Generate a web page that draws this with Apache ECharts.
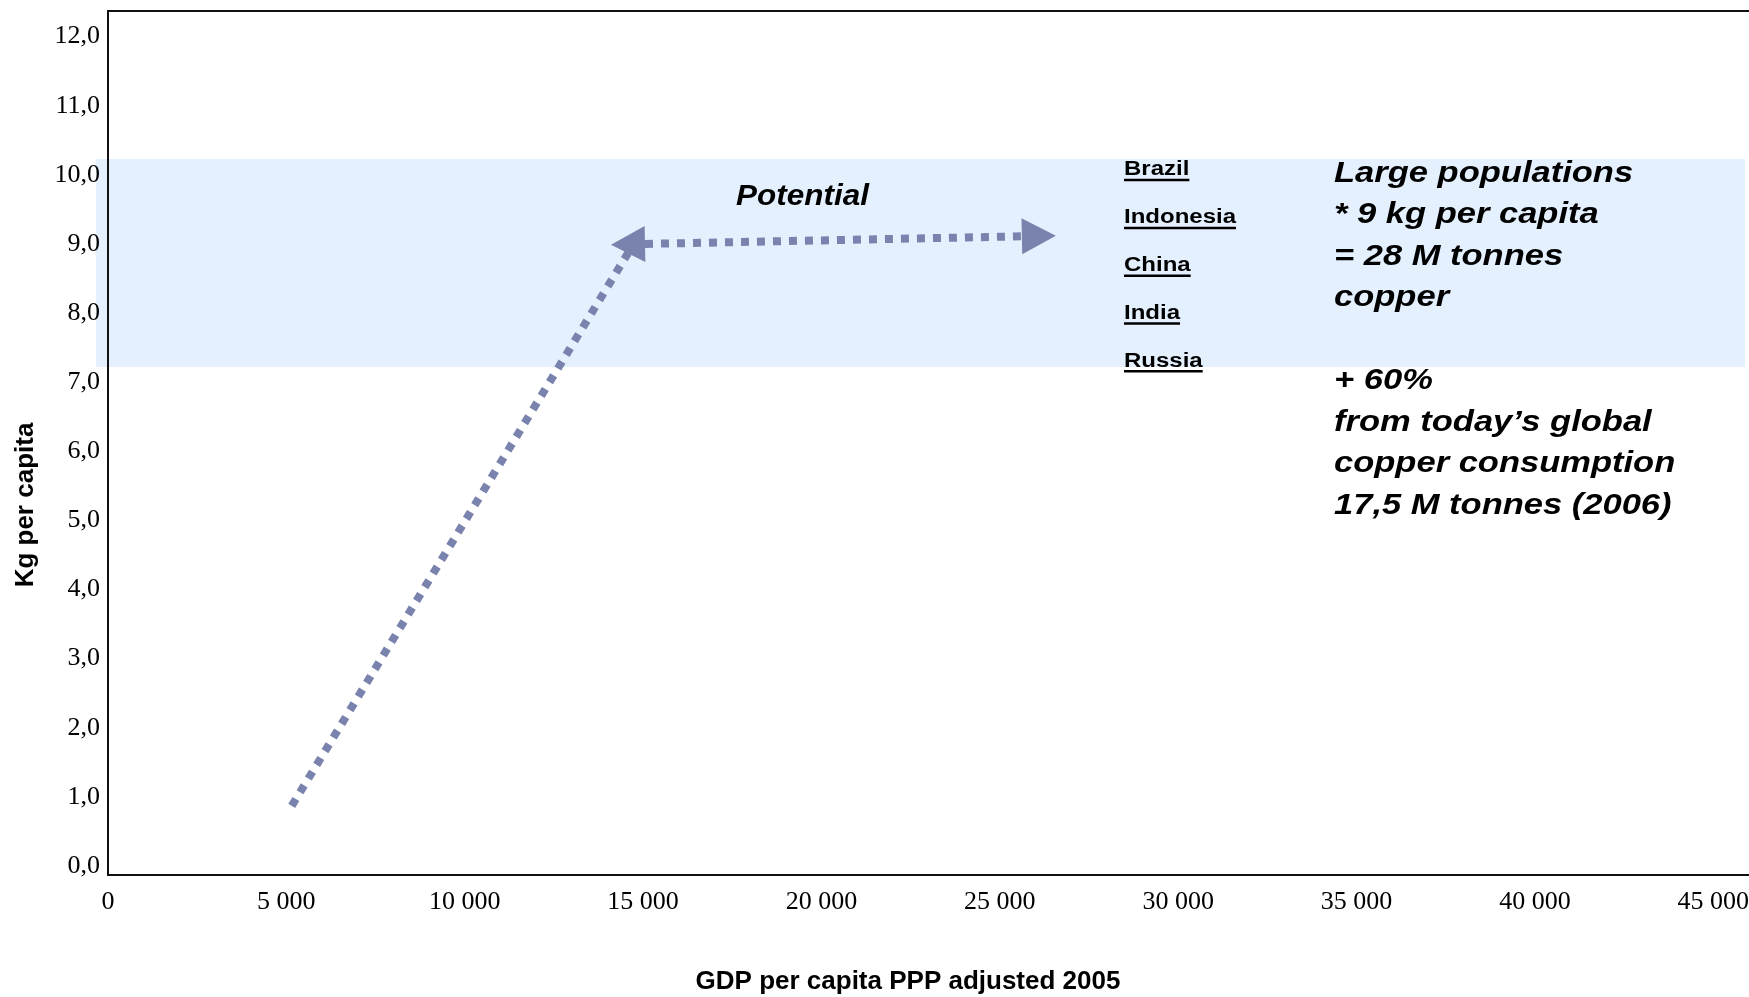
<!DOCTYPE html>
<html>
<head>
<meta charset="utf-8">
<script src="https://cdn.jsdelivr.net/npm/echarts@6/dist/echarts.min.js"></script>
<style>
  html, body { margin: 0; padding: 0; background: #ffffff; }
  #chart { width: 1749px; height: 997px; }
</style>
</head>
<body>
<div id="chart"></div>
<script>
// Axis ranges: GDP per capita (x) and copper use in kg per capita (y)
const gdpMax = 46000;
const gdpStep = 5000;
const kgMax = 12.5;
const kgStep = 1;

// Highlighted consumption range, kg per capita [low, high]
const potentialBand = [7.35, 10.36];

// Dotted arrows, endpoints as [gdp, kg]
const growthFrom = [5150, 1.0];
const growthTo = [14580, 9.0];
const potentialFrom = [14100, 9.12];
const potentialTo = [26570, 9.25];

const countries = ['Brazil', 'Indonesia', 'China', 'India', 'Russia'];
const noteLines = [
  'Large populations', '* 9 kg per capita', '= 28 M tonnes', 'copper', '',
  '+ 60%', 'from today\u2019s global', 'copper consumption', '17,5 M tonnes (2006)'
];
const xTitle = 'GDP per capita PPP adjusted 2005';
const yTitle = 'Kg per capita';

const arrowColor = '#7a83ad';
const bandColor = '#e4f0fe';
const axisColor = '#111111';
const serif = '"Liberation Serif", "Times New Roman", serif';
const sans = '"Liberation Sans", Arial, Helvetica, sans-serif';

const fmtGdp = v => String(v).replace(/\B(?=(\d{3})+(?!\d))/g, ' ');
const fmtKg = v => v.toFixed(1).replace('.', ',');

// [x0, y0, x1, y1, head at start, head at end]
const arrowRows = [
  [...growthFrom, ...growthTo, 0, 0],
  [...potentialFrom, ...potentialTo, 1, 1]
];

function renderBand(params, api) {
  const top = api.coord([0, api.value(1)])[1];
  const bottom = api.coord([0, api.value(0)])[1];
  const cs = params.coordSys;
  return {
    type: 'rect',
    shape: { x: cs.x - 12, y: top, width: cs.width + 8, height: bottom - top },
    style: { fill: bandColor }
  };
}

function renderArrow(params, api) {
  const a = api.coord([api.value(0), api.value(1)]);
  const b = api.coord([api.value(2), api.value(3)]);
  const headStart = api.value(4), headEnd = api.value(5);
  const dx = b[0] - a[0], dy = b[1] - a[1];
  const len = Math.hypot(dx, dy);
  const ux = dx / len, uy = dy / len;
  const nx = -uy, ny = ux;
  const HL = 34, HW = 36;
  const s = headStart ? [a[0] + ux * HL, a[1] + uy * HL] : a;
  const e = headEnd ? [b[0] - ux * HL, b[1] - uy * HL] : b;
  const children = [{
    type: 'line',
    shape: { x1: s[0], y1: s[1], x2: e[0], y2: e[1] },
    style: { stroke: arrowColor, lineWidth: 8, lineDash: [8, 8], lineCap: 'butt', fill: null }
  }];
  const head = (tip, px, py) => {
    const bx = tip[0] - px * HL, by = tip[1] - py * HL;
    return {
      type: 'polygon',
      shape: { points: [tip, [bx + nx * HW / 2, by + ny * HW / 2], [bx - nx * HW / 2, by - ny * HW / 2]] },
      style: { fill: arrowColor }
    };
  };
  if (headStart) children.push(head(a, -ux, -uy));
  if (headEnd) children.push(head(b, ux, uy));
  return { type: 'group', children };
}

// Text measurement for the underlined country names
const measureCtx = document.createElement('canvas').getContext('2d');
function textWidth(text, font) {
  measureCtx.font = font;
  return measureCtx.measureText(text).width;
}

const graphics = [];
graphics.push({
  type: 'text', x: 736, y: 197, scaleX: 1.05, z: 10,
  style: { text: 'Potential', font: 'italic bold 30px ' + sans, fill: '#000', verticalAlign: 'middle', align: 'left' }
});

const countryFont = 'bold 20px ' + sans;
const countryScale = 1.2;
countries.forEach((name, i) => {
  const baseline = 176.5 + i * 47.8;
  graphics.push({
    type: 'text', x: 1124, y: baseline - 6.6, scaleX: countryScale, z: 10,
    style: { text: name, font: countryFont, fill: '#000', verticalAlign: 'middle', align: 'left' }
  });
  const w = textWidth(name, countryFont) * countryScale;
  graphics.push({
    type: 'line', z: 10,
    shape: { x1: 1124, y1: baseline + 3.6, x2: 1124 + w, y2: baseline + 3.6 },
    style: { stroke: '#000', lineWidth: 2.5 }
  });
});

graphics.push({
  type: 'text', x: 1334, y: 153, scaleX: 1.19, z: 10,
  style: {
    text: noteLines.join('\n'), font: 'italic bold 29px ' + sans, lineHeight: 41.5,
    fill: '#000', verticalAlign: 'top', align: 'left'
  }
});

const chart = echarts.init(document.getElementById('chart'), null, { renderer: 'canvas' });
chart.setOption({
  animation: false,
  backgroundColor: '#ffffff',
  grid: { left: 108, right: 0, top: 11, bottom: 122, containLabel: false, outerBoundsMode: 'none' },
  xAxis: [{
    type: 'value', min: 0, max: gdpMax, interval: gdpStep,
    axisLine: { show: true, onZero: false, lineStyle: { color: axisColor, width: 2 } },
    axisTick: { show: false },
    splitLine: { show: false },
    axisLabel: {
      margin: 14, showMaxLabel: false, fontFamily: serif, fontSize: 26, color: '#000',
      formatter: v => (v % gdpStep ? '' : fmtGdp(v))
    },
    name: xTitle, nameLocation: 'middle', nameGap: 94,
    nameTextStyle: { fontFamily: sans, fontWeight: 'bold', fontSize: 26, color: '#000', padding: [0, 41, 0, 0] }
  }, {
    type: 'value', position: 'top', min: 0, max: gdpMax,
    axisLine: { show: true, onZero: false, lineStyle: { color: axisColor, width: 2 } },
    axisTick: { show: false }, axisLabel: { show: false }, splitLine: { show: false }
  }],
  yAxis: {
    type: 'value', min: 0, max: kgMax, interval: kgStep, z: 2,
    axisLine: { show: true, onZero: false, lineStyle: { color: axisColor, width: 2 } },
    axisTick: { show: false },
    splitLine: { show: false },
    axisLabel: {
      margin: 8, showMaxLabel: false, fontFamily: serif, fontSize: 26, color: '#000',
      verticalAlign: 'bottom', lineHeight: 18,
      formatter: v => (v % kgStep ? '' : fmtKg(v))
    },
    name: yTitle, nameLocation: 'middle', nameGap: 69, nameRotate: 90,
    nameTextStyle: { fontFamily: sans, fontWeight: 'bold', fontSize: 26, color: '#000', padding: [0, 124, 0, 0] }
  },
  series: [{
    type: 'custom', name: 'band', z: 1, silent: true,
    renderItem: renderBand,
    data: [potentialBand]
  }, {
    type: 'custom', name: 'arrows', z: 3, silent: true,
    renderItem: renderArrow,
    data: arrowRows
  }],
  graphic: graphics
});
</script>
</body>
</html>
